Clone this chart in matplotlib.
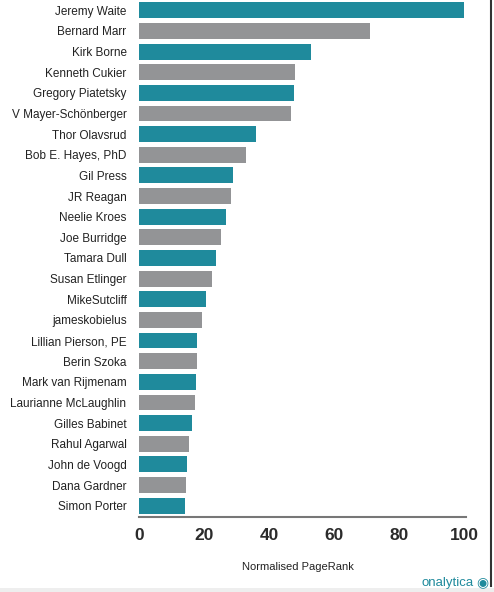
import matplotlib.pyplot as plt
from matplotlib.lines import Line2D
from matplotlib.patches import Rectangle

names = ['Jeremy Waite', 'Bernard Marr', 'Kirk Borne', 'Kenneth Cukier',
         'Gregory Piatetsky', 'V Mayer-Schönberger', 'Thor Olavsrud',
         'Bob E. Hayes, PhD', 'Gil Press', 'JR Reagan', 'Neelie Kroes',
         'Joe Burridge', 'Tamara Dull', 'Susan Etlinger', 'MikeSutcliff',
         'jameskobielus', 'Lillian Pierson, PE', 'Berin Szoka',
         'Mark van Rijmenam', 'Laurianne McLaughlin', 'Gilles Babinet',
         'Rahul Agarwal', 'John de Voogd', 'Dana Gardner', 'Simon Porter']
pagerank = [100, 71, 52.9, 47.9, 47.5, 46.7, 36.1, 33.0, 28.9, 28.2, 26.7,
            25.2, 23.6, 22.5, 20.6, 19.4, 17.9, 17.9, 17.6, 17.2, 16.2,
            15.3, 14.9, 14.5, 14.2]
xticks = [0, 20, 40, 60, 80, 100]

teal = '#1f8a9c'
grey = '#939496'
colors = [teal if i % 2 == 0 else grey for i in range(len(names))]

plt.rcParams['font.family'] = ['Liberation Sans', 'DejaVu Sans']

fig = plt.figure(figsize=(4.94, 5.92), dpi=100)
ax = fig.add_axes([139/494, 1 - 517/592, 327/494, 516/592])

y = list(range(len(names)))
ax.barh(y, pagerank, color=colors, height=0.77)
ax.set_ylim(len(names) - 0.45, -0.45)
ax.set_xlim(0, 100.5)
ax.set_yticks(y)
ax.set_yticklabels(names, fontsize=8.5, color='#222222')
ax.set_xticks(xticks)
ax.set_xticklabels([str(t) for t in xticks], fontsize=12.5, fontweight='bold',
                   color='#2b2b2b')
ax.tick_params(axis='both', length=0)
ax.tick_params(axis='y', pad=9)
ax.tick_params(axis='x', pad=8)
for s in ['top', 'right', 'left']:
    ax.spines[s].set_visible(False)
ax.spines['bottom'].set_color('#777777')
ax.spines['bottom'].set_linewidth(1.5)

fig.text(298/494, 1 - 567/592, 'Normalised PageRank', ha='center',
         va='center', fontsize=8, color='#222222')

# frame edge on the right, light strip at the bottom, and the logo
fig.add_artist(Line2D([491/494, 491/494], [1 - 586/592, 1], color='#333333',
                      lw=1.5, transform=fig.transFigure))
fig.add_artist(Rectangle((0, 0), 1, 4/592, color='#eeeeee', lw=0,
                         transform=fig.transFigure))
fig.text(474/494, 1 - 583/592, 'onalytica', ha='right', va='center',
         fontsize=9.5, color=teal)
fig.text(482/494, 1 - 582/592, '◉', ha='center', va='center',
         fontsize=10, color=teal, family='DejaVu Sans')

fig.savefig('out.png', dpi=100)
